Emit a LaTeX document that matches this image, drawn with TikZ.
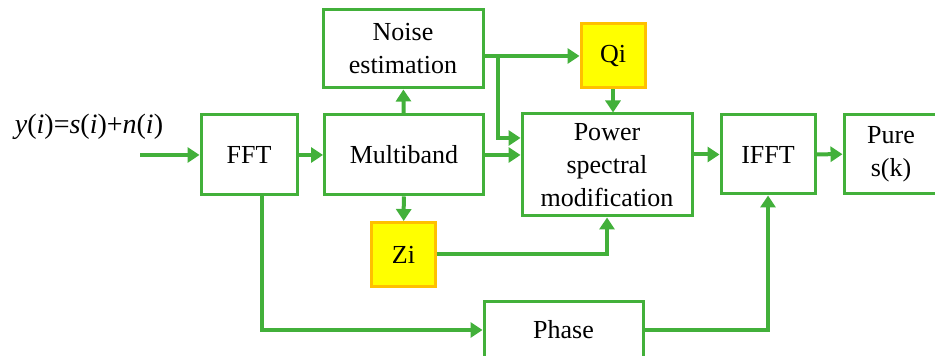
\documentclass[tikz,border=0pt]{standalone}
\usepackage{fontspec}
\setmainfont{Liberation Serif}
\usetikzlibrary{arrows.meta}
\definecolor{linegreen}{RGB}{66,176,58}
\definecolor{gainfill}{RGB}{255,255,0}
\definecolor{gainedge}{RGB}{255,192,0}
\begin{document}
\begin{tikzpicture}[
  x=0.5pt, y=-0.5pt,
  box/.style={
    draw=linegreen,
    line width=1.5pt,
    fill=white,
    align=center,
    inner sep=0pt,
    font=\fontsize{13}{16.5}\selectfont
  },
  gain/.style={
    box,
    draw=gainedge,
    fill=gainfill,
    minimum width=32pt,
    minimum height=32pt
  },
  ->/.style={
    draw=linegreen,
    line width=2pt,
    -{Triangle[length=6pt,width=7.5pt]}
  }
]
\clip (0,0) rectangle (935,356);
\node[box, minimum width=48pt, minimum height=40pt] at (249,155) (fft) {FFT};
\node[box, minimum width=79.5pt, minimum height=40pt] at (404,155) (multi) {Multiband};
\node[box, minimum width=80pt, minimum height=39pt] at (403,49) (noise) {Noise\\estimation};
\node[gain] at (613,56) (qi) {Qi};
\node[box, minimum width=85pt, minimum height=51pt] at (607,165) (power) {Power\\spectral\\modification};
\node[box, minimum width=47pt, minimum height=39.5pt] at (768,154.5) (ifft) {IFFT};
\node[box, minimum width=47pt, minimum height=39.5pt] at (891,154) (pure) {Pure\\s(k)};
\node[gain] at (403.5,254.5) (zi) {Zi};
\node[box, minimum width=79.5pt, minimum height=28pt] at (563.5,330) (phase) {Phase};
\node[font=\fontsize{14}{16}\selectfont, inner sep=0pt] at (89,127) (signal)
  {\textit{y}(\textit{i})=\textit{s}(\textit{i})+\textit{n}(\textit{i})};

\coordinate (in) at (140,155);
\coordinate (branch) at (498,56);

\draw[->] (in) -- (fft);
\draw[->] (fft) -- (multi);
\draw[->] (multi) -- (noise);
\draw[->] (noise.east |- qi.west) -- (qi.west);
\draw[->] (branch) |- ([yshift=13.5pt]power.west);
\draw[->] (multi) -- (multi -| power.west);
\draw[->] (qi) -- (qi |- power.north);
\draw[->] (multi) -- (zi);
\draw[->] (zi) -| (power.south);
\draw[->] (power.east |- ifft) -- (ifft);
\draw[->] (ifft) -- (pure);
\draw[->] ([xshift=6.5pt]fft.south) |- (phase);
\draw[->] (phase) -| (ifft.south);
\end{tikzpicture}
\end{document}
